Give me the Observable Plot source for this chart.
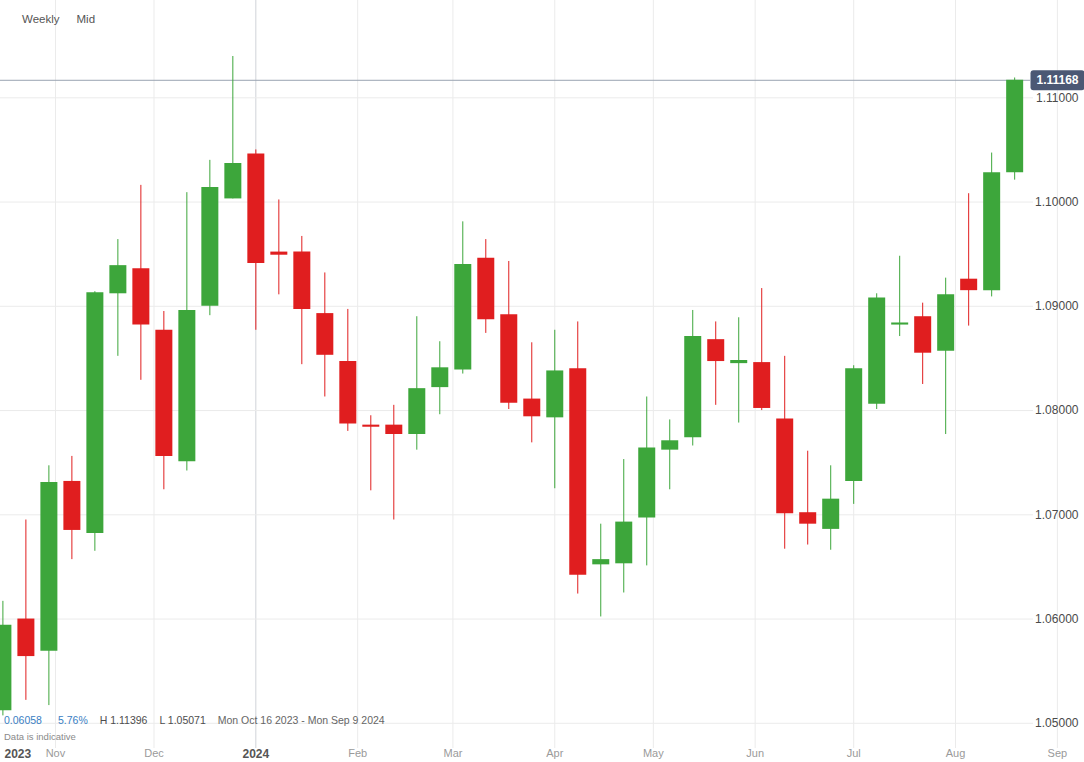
<!DOCTYPE html>
<html>
<head>
<meta charset="utf-8">
<script src="https://cdn.jsdelivr.net/npm/d3@7"></script>
<script src="https://cdn.jsdelivr.net/npm/@observablehq/plot@0.6"></script>
<style>
  body { margin: 0; background: #fff; font-family: "Liberation Sans", Arial, sans-serif; }
  #wrap { position: relative; width: 1084px; height: 762px; overflow: hidden; }
  #chart svg { display: block; }
  .ov { position: absolute; white-space: nowrap; line-height: normal; }
  #topbar { left: 22px; top: 13px; font-size: 11.5px; color: #555; }
  #topbar span + span { margin-left: 17px; }
  #info { left: 4px; top: 714px; font-size: 10.5px; }
  #info span { margin-right: 12px; }
  #info span:first-child { margin-right: 16px; }
  #note { left: 4px; top: 731px; font-size: 9.5px; color: #8a8a8a; }
</style>
</head>
<body>
<div id="wrap">
  <div id="chart"></div>
  <div id="topbar" class="ov"><span>Weekly</span><span>Mid</span></div>
  <div id="info" class="ov"></div>
  <div id="note" class="ov">Data is indicative</div>
</div>
<script>
// ---- Data (EUR/USD weekly, Mid) ----
const weeks = [
  "2023-10-16","2023-10-23","2023-10-30","2023-11-06","2023-11-13","2023-11-20","2023-11-27",
  "2023-12-04","2023-12-11","2023-12-18","2023-12-25","2024-01-01","2024-01-08","2024-01-15",
  "2024-01-22","2024-01-29","2024-02-05","2024-02-12","2024-02-19","2024-02-26","2024-03-04",
  "2024-03-11","2024-03-18","2024-03-25","2024-04-01","2024-04-08","2024-04-15","2024-04-22",
  "2024-04-29","2024-05-06","2024-05-13","2024-05-20","2024-05-27","2024-06-03","2024-06-10",
  "2024-06-17","2024-06-24","2024-07-01","2024-07-08","2024-07-15","2024-07-22","2024-07-29",
  "2024-08-05","2024-08-12","2024-08-19"
];
const opens = [
  1.0512,1.0600,1.0569,1.0732,1.0682,1.0912,1.0936,
  1.0877,1.0751,1.0900,1.1003,1.1046,1.0952,1.0952,
  1.0893,1.0847,1.0786,1.0786,1.0777,1.0822,1.0839,
  1.0946,1.0892,1.0811,1.0793,1.0840,1.0652,1.0653,
  1.0697,1.0762,1.0774,1.0868,1.0845,1.0846,1.0792,
  1.0702,1.0686,1.0732,1.0806,1.0882,1.0890,1.0857,
  1.0926,1.0915,1.1028
];
const highs = [
  1.0617,1.0695,1.0747,1.0756,1.0914,1.0964,1.1016,
  1.0895,1.1009,1.1040,1.11396,1.1050,1.1002,1.0967,
  1.0932,1.0897,1.0795,1.0805,1.0890,1.0866,1.0981,
  1.0964,1.0943,1.0865,1.0877,1.0885,1.0691,1.0753,
  1.0813,1.0791,1.0896,1.0885,1.0889,1.0917,1.0852,
  1.0761,1.0747,1.0843,1.0912,1.0948,1.0903,1.0927,
  1.1008,1.1047,1.1119
];
const lows = [
  1.05071,1.0522,1.0517,1.0657,1.0665,1.0852,1.0829,
  1.0724,1.0742,1.0891,1.1003,1.0877,1.0911,1.0844,
  1.0813,1.0780,1.0723,1.0695,1.0762,1.0796,1.0835,
  1.0874,1.0801,1.0769,1.0725,1.0624,1.0602,1.0625,
  1.0651,1.0724,1.0766,1.0805,1.0788,1.0800,1.0667,
  1.0671,1.0666,1.0710,1.0801,1.0871,1.0825,1.0777,
  1.0881,1.0909,1.1021
];
const closes = [
  1.0594,1.0564,1.0731,1.0685,1.0913,1.0939,1.0882,
  1.0756,1.0896,1.1014,1.1037,1.0941,1.0949,1.0897,
  1.0853,1.0787,1.0784,1.0777,1.0821,1.0841,1.0940,
  1.0887,1.0807,1.0794,1.0838,1.0642,1.0657,1.0693,
  1.0764,1.0771,1.0871,1.0847,1.0848,1.0802,1.0701,
  1.0691,1.0715,1.0840,1.0908,1.0884,1.0855,1.0911,
  1.0915,1.1028,1.11168
];
const priceTicks = [1.05, 1.06, 1.07, 1.08, 1.09, 1.10, 1.11];
const monthStarts = ["2023-11-01","2023-12-01","2024-02-01","2024-03-01","2024-04-01","2024-05-01","2024-06-01","2024-07-01","2024-08-01","2024-09-01"];
const monthLabels = ["Nov","Dec","Feb","Mar","Apr","May","Jun","Jul","Aug","Sep"];
const yearStarts = ["2024-01-01"];
const yearLabels = ["2024"];
const firstYearLabel = "2023";
const summary = {change: "0.06058", pct: "5.76%", high: "H 1.11396", low: "L 1.05071", range: "Mon Oct 16 2023 - Mon Sep 9 2024"};

// ---- Build ----
const toDate = s => new Date(s + "T00:00:00Z");
const candles = weeks.map((w, i) => ({date: toDate(w), open: opens[i], high: highs[i], low: lows[i], close: closes[i]}));
const upC = candles.filter(d => d.close >= d.open);
const downC = candles.filter(d => d.close < d.open);
const lastClose = closes[closes.length - 1];
const monthDates = monthStarts.map(toDate);
const yearDates = yearStarts.map(toDate);
const monthLabelOf = new Map(monthDates.map((d, i) => [+d, monthLabels[i]]));
const yearLabelOf = new Map(yearDates.map((d, i) => [+d, yearLabels[i]]));

const UP = "#3da63b", DOWN = "#e01e1f";
const FONT = '"Liberation Sans", Arial, sans-serif';

const tagSymbol = {
  draw(ctx) {
    const x0 = -54, x1 = 0, y0 = -10, y1 = 10, r = 3;
    ctx.moveTo(x0 + r, y0);
    ctx.lineTo(x1 - r, y0);
    ctx.arcTo(x1, y0, x1, y0 + r, r);
    ctx.lineTo(x1, y1 - r);
    ctx.arcTo(x1, y1, x1 - r, y1, r);
    ctx.lineTo(x0 + r, y1);
    ctx.arcTo(x0, y1, x0, y1 - r, r);
    ctx.lineTo(x0, y0 + r);
    ctx.arcTo(x0, y0, x0 + r, y0, r);
    ctx.closePath();
  }
};

const chart = Plot.plot({
  width: 1084,
  height: 762,
  marginTop: 0,
  marginRight: 0,
  marginBottom: 14,
  marginLeft: 0,
  style: {fontFamily: FONT, background: "white"},
  x: {type: "utc", domain: [new Date(Date.UTC(2023, 9, 15, 6, 30)), new Date(Date.UTC(2024, 8, 9, 6, 15))]},
  y: {domain: [1.047583, 1.119333]},
  marks: [
    Plot.gridX(monthDates, {stroke: "#ebebeb", strokeOpacity: 1}),
    Plot.gridX(yearDates, {stroke: "#d0d3d8", strokeOpacity: 1}),
    Plot.gridY(priceTicks, {stroke: "#ebebeb", strokeOpacity: 1, insetRight: 51}),
    Plot.ruleY([lastClose], {stroke: "#9aa4b2", strokeWidth: 1, insetRight: 54}),
    Plot.ruleX(upC, {x: "date", y1: "low", y2: "high", stroke: UP, strokeWidth: 1}),
    Plot.ruleX(downC, {x: "date", y1: "low", y2: "high", stroke: DOWN, strokeWidth: 1}),
    Plot.ruleX(upC, {x: "date", y1: "open", y2: "close", stroke: UP, strokeWidth: 17}),
    Plot.ruleX(downC, {x: "date", y1: "open", y2: "close", stroke: DOWN, strokeWidth: 17}),
    Plot.axisY(priceTicks, {anchor: "right", tickSize: 0, tickPadding: 0, dx: -6, textAnchor: "end",
      tickFormat: d3.format(".5f"), fontSize: 12, fill: "#4a4a4a", label: null}),
    Plot.axisX(monthDates, {anchor: "bottom", tickSize: 0, tickPadding: 1, tickFormat: d => monthLabelOf.get(+d),
      fontSize: 11, fill: "#9a9a9a", label: null}),
    Plot.axisX(yearDates, {anchor: "bottom", tickSize: 0, tickPadding: 1, tickFormat: d => yearLabelOf.get(+d),
      fontSize: 12, fontWeight: "bold", fill: "#555", label: null}),
    Plot.text([firstYearLabel], {text: d => d, frameAnchor: "bottom-left", textAnchor: "start", lineAnchor: "top",
      dx: 4, dy: 1, fontSize: 12, fontWeight: "bold", fill: "#555"}),
    Plot.dot([lastClose], {y: d => d, frameAnchor: "right", symbol: tagSymbol, r: 8, fill: "#4b5874"}),
    Plot.text([lastClose], {y: d => d, text: d => d3.format(".5f")(d), frameAnchor: "right", textAnchor: "middle",
      dx: -27, fill: "white", fontWeight: "bold", fontSize: 12})
  ]
});
document.getElementById("chart").appendChild(chart);

const info = document.getElementById("info");
[[summary.change, "#3a80c3"], [summary.pct, "#3a80c3"], [summary.high, "#4d4d4d"], [summary.low, "#4d4d4d"], [summary.range, "#666"]]
  .forEach(([t, c]) => { const s = document.createElement("span"); s.textContent = t; s.style.color = c; info.appendChild(s); });
</script>
</body>
</html>
